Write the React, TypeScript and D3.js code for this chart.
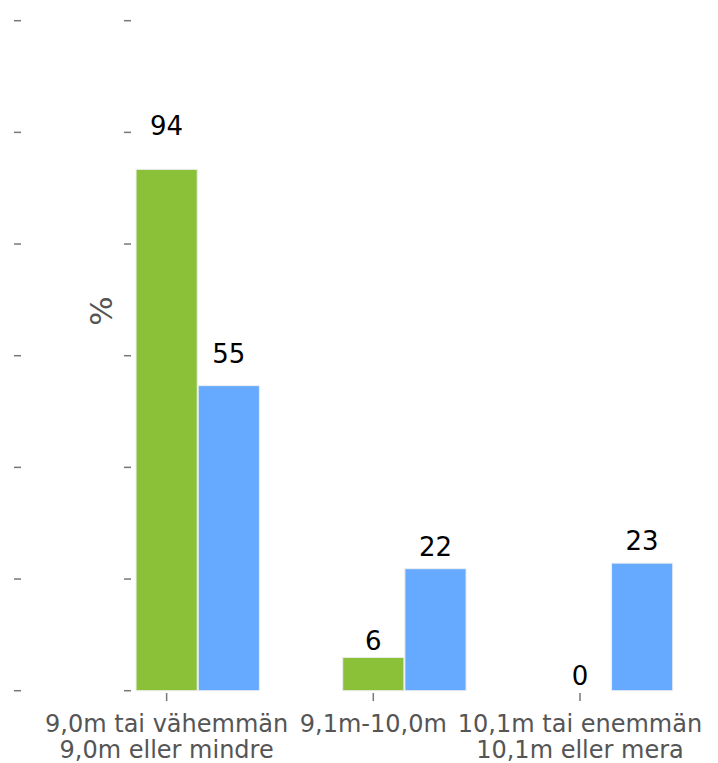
import React from "react";
import * as d3 from "d3";

const categories: string[][] = [
  ["9,0m tai vähemmän", "9,0m eller mindre"],
  ["9,1m-10,0m"],
  ["10,1m tai enemmän", "10,1m eller mera"],
];
const seriesGreen: number[] = [94, 6, 0];
const seriesBlue: number[] = [55, 22, 23];
const seriesColors: string[] = ["#8ac138", "#66aaff"];
const yAxisLabel = "%";
const yMax = 120.8;
const yDivisions = 6;

const W = 718;
const H = 763;

export default function App() {
  const x = d3
    .scaleBand<number>()
    .domain(categories.map((_, i) => i))
    .range([63.3, 683.3]);
  const y = d3.scaleLinear().domain([0, yMax]).range([690.7, 20.7]);
  const step = x.step();
  const bw = step * 0.296;
  const center = (i: number) => (x(i) as number) + x.bandwidth() / 2;
  const ticks = d3.range(yDivisions + 1).map((k) => (yMax * k) / yDivisions);
  const series = [seriesGreen, seriesBlue];
  const font = "DejaVu Sans, sans-serif";

  return (
    <div style={{ position: "absolute", left: 0, top: 0 }}>
      <svg width={W} height={H} style={{ display: "block", background: "#fff" }}>
        {ticks.map((t, k) => (
          <g key={k}>
            <line x1={14} x2={21} y1={y(t)} y2={y(t)} stroke="#777" strokeWidth={1.5} />
            <line x1={124} x2={131} y1={y(t)} y2={y(t)} stroke="#777" strokeWidth={1.5} />
          </g>
        ))}
        <text
          transform={`translate(${112},${311}) rotate(-90)`}
          textAnchor="middle"
          fontFamily={font}
          fontSize={31}
          fill="#555"
        >
          {yAxisLabel}
        </text>
        {series.map((vals, s) =>
          vals.map((v, i) => {
            const cx = center(i) + (s === 0 ? 0 : bw + 1);
            const top = y(v);
            return (
              <g key={`${s}-${i}`}>
                {v > 0 && (
                  <rect
                    x={cx - bw / 2}
                    y={top}
                    width={bw}
                    height={y(0) - top}
                    fill={seriesColors[s]}
                    stroke="#eeeeee"
                    strokeWidth={1}
                  />
                )}
                <text
                  x={cx}
                  y={y(v * 1.056) - 5.5}
                  textAnchor="middle"
                  fontFamily={font}
                  fontSize={26}
                  fill="#000"
                >
                  {d3.format(".0f")(v)}
                </text>
              </g>
            );
          })
        )}
        {categories.map((lines, i) => (
          <g key={i}>
            <line x1={center(i)} x2={center(i)} y1={693} y2={701} stroke="#777" strokeWidth={1.5} />
            {lines.map((ln, j) => (
              <text
                key={j}
                x={center(i)}
                y={732 + j * 25.5}
                textAnchor="middle"
                fontFamily={font}
                fontSize={24}
                fill="#555"
              >
                {ln}
              </text>
            ))}
          </g>
        ))}
      </svg>
    </div>
  );
}
